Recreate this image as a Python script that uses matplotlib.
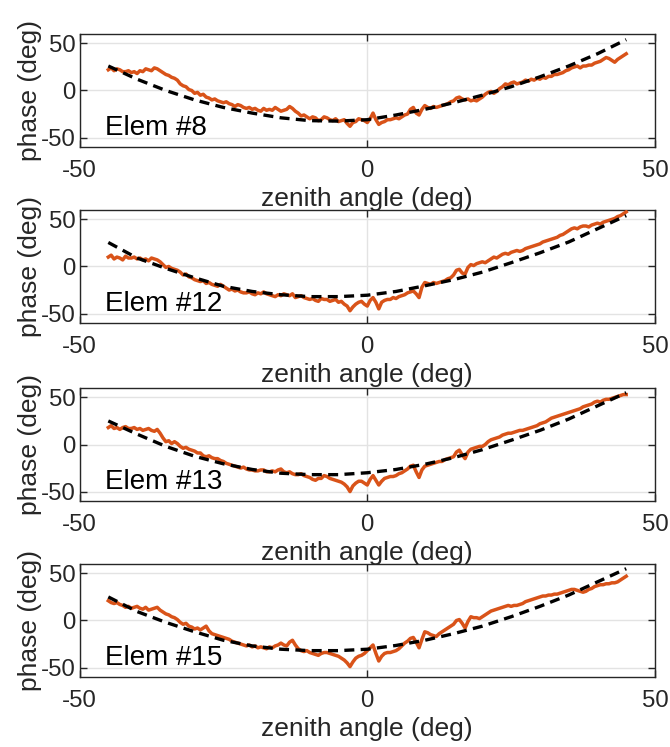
import numpy as np
import matplotlib
matplotlib.use("Agg")
from matplotlib import pyplot as plt

plt.rcParams["font.family"] = ["Liberation Sans", "DejaVu Sans"]
plt.rcParams["axes.unicode_minus"] = False

# measured phase, one sample every half degree from -45 to 45
angles = np.arange(-45, 45.5, 0.5)

elem_8_phase = [
    22, 24, 21, 23, 22, 20, 20, 21, 19, 20,
    18, 21, 20, 23, 22, 21, 24, 23, 21, 19,
    17, 16, 14, 13, 11, 7, 5, 4, 1, 0,
    -3, -2, -5, -4, -7, -8, -10, -9, -11, -12,
    -13, -12, -14, -15, -17, -15, -16, -18, -19, -18,
    -20, -19, -21, -22, -19, -21, -20, -21, -18, -20,
    -22, -21, -20, -17, -19, -22, -24, -27, -26, -28,
    -30, -28, -29, -32, -31, -28, -29, -31, -32, -30,
    -33, -32, -31, -35, -38, -34, -33, -30, -31, -32,
    -34, -30, -24, -31, -36, -34, -33, -31, -31, -30,
    -29, -30, -28, -26, -25, -20, -18, -24, -26, -20,
    -16, -18, -19, -17, -18, -17, -16, -15, -14, -12,
    -11, -8, -7, -9, -10, -9, -11, -10, -11, -9,
    -7, -4, -2, -1, -3, -1, 2, 4, 7, 6,
    8, 9, 7, 8, 9, 11, 10, 12, 11, 13,
    12, 14, 13, 15, 15, 17, 17, 18, 19, 21,
    22, 24, 25, 26, 24, 26, 26, 27, 27, 29,
    30, 31, 33, 35, 34, 32, 30, 33, 35, 37,
    39,
]

elem_12_phase = [
    10, 12, 8, 10, 9, 7, 11, 9, 9, 10,
    8, 9, 7, 8, 6, 9, 8, 7, 5, 2,
    -1, 0, -2, -3, -4, -6, -9, -8, -11, -12,
    -14, -15, -16, -15, -18, -17, -19, -20, -21, -19,
    -21, -23, -25, -24, -26, -25, -27, -28, -28, -27,
    -29, -30, -28, -29, -27, -29, -30, -31, -32, -30,
    -31, -29, -30, -31, -29, -33, -32, -31, -33, -34,
    -35, -34, -36, -37, -34, -35, -35, -37, -36, -35,
    -38, -37, -40, -42, -47, -43, -40, -38, -37, -40,
    -42, -36, -33, -38, -45, -38, -36, -35, -35, -33,
    -34, -32, -31, -30, -28, -27, -26, -29, -33, -22,
    -17, -18, -19, -17, -18, -17, -16, -15, -13, -12,
    -9, -4, -3, -7, -8, -1, 2, 1, 3, 4,
    5, 4, 6, 8, 10, 9, 11, 13, 14, 13,
    15, 16, 17, 16, 17, 19, 20, 21, 22, 23,
    24, 26, 27, 28, 29, 30, 31, 33, 34, 36,
    38, 40, 41, 40, 42, 43, 43, 42, 44, 45,
    46, 45, 47, 48, 49, 50, 51, 53, 54, 56,
    58,
]

elem_13_phase = [
    18, 20, 17, 18, 16, 18, 19, 17, 17, 18,
    16, 17, 15, 16, 17, 15, 14, 16, 12, 7,
    3, 4, 1, 3, 1, -2, -4, -3, -5, -6,
    -7, -9, -9, -12, -13, -12, -14, -15, -15, -17,
    -18, -20, -21, -22, -23, -24, -25, -24, -26, -27,
    -27, -28, -28, -27, -27, -29, -29, -28, -29, -27,
    -26, -29, -30, -29, -31, -32, -32, -31, -33, -34,
    -35, -37, -38, -36, -36, -33, -34, -36, -37, -38,
    -39, -40, -42, -45, -50, -44, -41, -39, -39, -41,
    -43, -37, -33, -38, -43, -39, -36, -35, -34, -34,
    -33, -31, -30, -28, -26, -23, -22, -29, -35, -27,
    -23, -22, -21, -20, -19, -18, -18, -16, -15, -14,
    -13, -8, -6, -11, -15, -8, -5, -4, -3, -2,
    -2, 0, 3, 5, 6, 7, 8, 10, 11, 12,
    12, 13, 14, 15, 15, 16, 17, 18, 19, 20,
    22, 23, 24, 26, 28, 29, 30, 31, 32, 33,
    34, 35, 36, 37, 38, 40, 41, 42, 43, 45,
    46, 45, 47, 48, 48, 49, 50, 51, 52, 53,
    53,
]

elem_15_phase = [
    21, 19, 18, 19, 17, 16, 14, 15, 13, 14,
    15, 13, 12, 14, 11, 12, 13, 14, 11, 9,
    7, 6, 4, 3, 1, -2, -4, -3, -6, -7,
    -9, -8, -10, -8, -6, -11, -14, -15, -16, -17,
    -18, -19, -20, -22, -23, -24, -25, -26, -27, -26,
    -28, -27, -29, -28, -29, -30, -28, -29, -27, -26,
    -24, -26, -27, -23, -21, -26, -30, -32, -33, -32,
    -34, -35, -36, -37, -35, -34, -34, -35, -36, -37,
    -38, -40, -42, -45, -49, -44, -40, -38, -37, -35,
    -32, -29, -26, -35, -43, -38, -35, -34, -34, -33,
    -32, -30, -27, -24, -22, -19, -18, -23, -29, -20,
    -12, -13, -15, -16, -17, -14, -12, -10, -8, -6,
    -4, 0, 1, -3, -8, -1, 4, 3, 3, 2,
    4, 6, 8, 10, 11, 12, 13, 14, 15, 16,
    15, 16, 16, 17, 18, 20, 21, 22, 23, 24,
    25, 26, 26, 27, 27, 28, 28, 29, 30, 31,
    32, 33, 33, 32, 31, 30, 31, 33, 34, 36,
    37, 38, 38, 39, 39, 40, 40, 41, 43, 45,
    47,
]

# model curves, every 5 degrees
model_angles = np.arange(-45, 46, 5)
elem_8_model = [26, 12, 0, -10, -18, -24, -29, -32, -32.5, -31,
                -26, -20, -13, -5, 4, 14.5, 26, 39, 54]
elem_12_model = [25.5, 9, -2, -12, -21, -26.5, -30, -32, -32, -30.5,
                 -26.5, -20.5, -14, -6, 4, 14.5, 26, 40, 54]
elem_13_model = [25, 11, -2, -12.5, -20.5, -26.5, -30.5, -32, -32, -30,
                 -26.5, -21, -14, -5.5, 4.5, 15, 27, 41, 55]
elem_15_model = [25, 9.5, -2, -12, -21, -27, -30.5, -32, -32, -30.5,
                 -26.5, -21, -14, -6, 4, 15, 27, 41, 55]

labels = ["Elem #8", "Elem #12", "Elem #13", "Elem #15"]
measured = [elem_8_phase, elem_12_phase, elem_13_phase, elem_15_phase]
models = [elem_8_model, elem_12_model, elem_13_model, elem_15_model]

orange = "#D95319"
dark = "#262626"

fig = plt.figure(figsize=(6.7, 7.47), dpi=100)
bottoms = [0.8032, 0.5676, 0.3293, 0.0937]

for bottom, label, phase, model in zip(bottoms, labels, measured, models):
    ax = fig.add_axes([0.1187, bottom, 0.8589, 0.1513])
    ax.plot(angles, phase, color=orange, linewidth=2.5, zorder=3)
    ax.plot(model_angles, model, color="black", linewidth=2.4,
            linestyle=(0, (3.0, 1.9)), zorder=4)
    ax.set_xlim(-50, 50)
    ax.set_ylim(-60, 60)
    ax.set_xticks([-50, 0, 50])
    ax.set_yticks([-50, 0, 50])
    ax.grid(True, color="#e3e3e3", linewidth=1.0)
    ax.set_axisbelow(True)
    ax.tick_params(direction="in", length=5, width=1, colors=dark,
                   labelsize=17.3, top=True, right=True)
    ax.tick_params(axis="x", pad=9)
    ax.tick_params(axis="y", pad=3)
    for spine in ax.spines.values():
        spine.set_color(dark)
        spine.set_linewidth(1.0)
    ax.set_xlabel("zenith angle (deg)", fontsize=19, color=dark, labelpad=4)
    ax.set_ylabel("phase (deg)", fontsize=19, color=dark, labelpad=-1)
    ax.text(-45.5, -47, label, fontsize=20, color="black",
            va="baseline", ha="left", zorder=5)

fig.savefig("out.png", dpi=100)
